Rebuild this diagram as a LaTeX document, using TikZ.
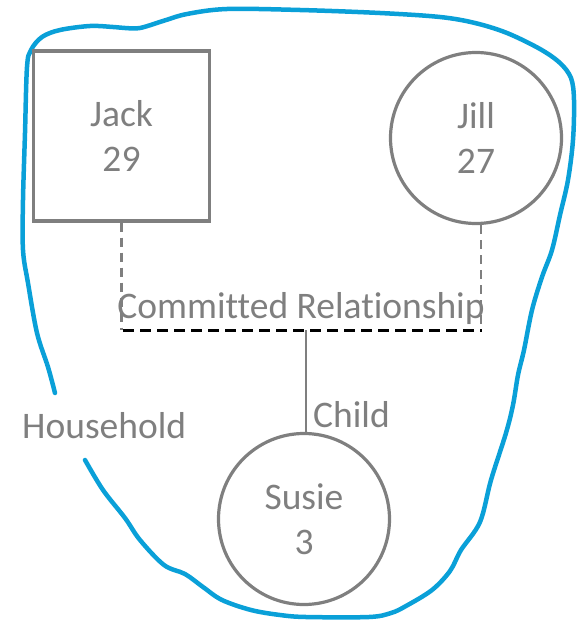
\documentclass[tikz,border=0pt]{standalone}
\usepackage{fontspec}
\setmainfont{Carlito}[Ligatures=NoCommon]
\definecolor{txtgray}{HTML}{7F7F7F}
\definecolor{shapegray}{HTML}{7F7F7F}
\definecolor{hblue}{HTML}{0AA0D8}
\begin{document}
\begin{tikzpicture}[x=1pt,y=-1pt,
  every node/.style={font=\fontsize{37.5}{45.5}\selectfont, text=txtgray, inner sep=0pt},
  person/.style={draw=shapegray, line width=3.2pt, align=center},
  graydash/.style={draw=shapegray, line width=2.8pt, dash pattern=on 9pt off 6pt},
  blackdash/.style={draw=black, line width=3pt, dash pattern=on 11pt off 6pt},
  childline/.style={draw=shapegray, line width=2.8pt},
  household/.style={draw=hblue, line width=4.5pt, line cap=round, line join=round}]
\useasboundingbox (0,0) rectangle (576,621);
% household outline
\draw[household] plot[smooth, tension=0.55] coordinates {
 (85,460) (103,490) (125,518) (140,540) (164,565) (185,574) (203,587) (222,600)
 (251,610) (280,615) (306,617) (369,617) (391,613) (406,606) (432,590) (450,571)
 (461,550) (480,522) (491,480) (506,433) (513,405) (518,375) (524,350) (532,310)
 (542,277) (552,250) (560,215) (568,180) (573,140) (574,100) (571,78) (560,63)
 (540,49) (507,33) (475,23) (440,17) (380,13) (300,10) (227,9) (187,14) (163,21)
 (140,28) (125,28) (113,27) (90,26) (60,30) (42,37) (31,50) (27,67) (25,133)
 (23,200) (23,250) (28,283) (37,333) (48,367) (55,393)};
% people
\node[person, rectangle, minimum width=176pt, minimum height=170pt] (jack) at (121.5,136) {Jack\\29};
\node[person, circle, minimum size=171pt] (jill) at (476,138) {Jill\\27};
\node[person, circle, minimum size=171pt] (susie) at (304,519) {Susie\\3};
% relationship
\coordinate (cl) at (123,330);
\coordinate (cr) at (482,330);
\draw[graydash] (jack.south) -- (jack.south |- cl);
\draw[graydash] ([xshift=5pt]jill.south) -- ([xshift=5pt]jill.south |- cr);
\draw[blackdash] (cl) -- (cr);
\draw[childline] ([xshift=2pt]susie.north |- cl) -- ([xshift=2pt]susie.north);
% labels
\node[anchor=base] (crtext) at (301,318) {Committed Relationship};
\node[anchor=base west] (child) at (313,427) {Child};
\node[anchor=base west] (house) at (22,438) {Household};
\end{tikzpicture}
\end{document}
